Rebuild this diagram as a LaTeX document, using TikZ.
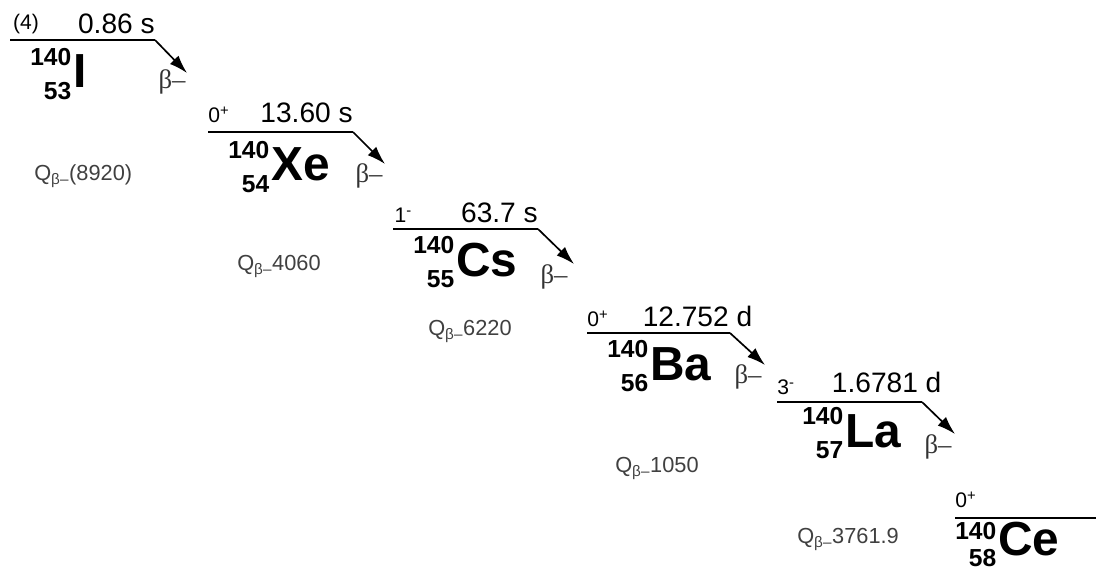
\documentclass[tikz,border=0pt]{standalone}
\usepackage{fontspec}
\setmainfont{Liberation Sans}
\newfontfamily\betafont{Liberation Serif}
\usepackage{tikz}
\usetikzlibrary{positioning,arrows.meta}

% mass number over atomic number, then the element
\newcommand{\nuc}[4][0pt]{\raisebox{-8.5pt}{\fontsize{17.5}{24.5}\selectfont\bfseries
  \begin{tabular}[b]{@{}r@{}}#2\hspace{8pt}\\[#1]#3\end{tabular}}\hspace{1.5pt}%
  {\fontsize{34}{38}\selectfont\bfseries #4}}

\begin{document}
\begin{tikzpicture}[
  x=0.025cm, y=-0.025cm,
  every node/.style={inner sep=0pt},
  level/.style={line width=1.6pt},
  decay/.style={line width=1.2pt, -{Latex[length=13pt,width=8.5pt]}},
  nuclide/.style={anchor=base west},
  halflife/.style={font=\fontsize{20}{22}\selectfont},
  spin/.style={font=\fontsize{15}{17}\selectfont},
  betalabel/.style={font=\fontsize{19}{21}\selectfont\betafont, text=black!80},
  qvalue/.style={anchor=base west, font=\fontsize{15.5}{17}\selectfont, text=black!75}
]
  \useasboundingbox (0,0) rectangle (1096,577);

  % Level 140I
  \coordinate (iL) at (10,40);
  \coordinate (iR) at (155,40);
  \coordinate (iT) at (187,73);
  \draw[level] (iL) -- (iR);
  \draw[decay] (iR) -- (iT);
  \node[spin, above right=4pt and 2pt of iL] (iSpin) {(4)};
  \node[halflife, above left=4.5pt and 0pt of iR] (iHalf) {0.86 s};
  \node[nuclide] (iNuc) at (30,88) {\nuc{140}{53}{I}};
  \node[betalabel] (iBeta) at (172,82) {β–};
  \node[qvalue] (iQ) at (34,180) {Q\textsubscript{β–}(8920)};

  % Level 140Xe
  \coordinate (xL) at (208,132);
  \coordinate (xR) at (353,132);
  \coordinate (xT) at (385,164);
  \draw[level] (xL) -- (xR);
  \draw[decay] (xR) -- (xT);
  \node[spin, above right=6.5pt and 0pt of xL] (xSpin) {0\textsuperscript{+}};
  \node[halflife, above left=6.5pt and 0pt of xR] (xHalf) {13.60 s};
  \node[nuclide] (xNuc) at (228,181) {\nuc{140}{54}{Xe}};
  \node[betalabel] (xBeta) at (369,176) {β–};
  \node[qvalue] (xQ) at (237,270) {Q\textsubscript{β–}4060};

  % Level 140Cs
  \coordinate (cL) at (393,229);
  \coordinate (cR) at (538,229);
  \coordinate (cT) at (574,264);
  \draw[level] (cL) -- (cR);
  \draw[decay] (cR) -- (cT);
  \node[spin, above right=4.5pt and 1pt of cL] (cSpin) {1\textsuperscript{-}};
  \node[halflife, above left=4.5pt and 0pt of cR] (cHalf) {63.7 s};
  \node[nuclide] (cNuc) at (413,276) {\nuc{140}{55}{Cs}};
  \node[betalabel] (cBeta) at (554,277) {β–};
  \node[qvalue] (cQ) at (428,335) {Q\textsubscript{β–}6220};

  % Level 140Ba
  \coordinate (bL) at (587,333);
  \coordinate (bR) at (730,333);
  \coordinate (bT) at (765,365);
  \draw[level] (bL) -- (bR);
  \draw[decay] (bR) -- (bT);
  \node[spin, above right=4pt and 0pt of bL] (bSpin) {0\textsuperscript{+}};
  \node[halflife, above left=4pt and -16pt of bR] (bHalf) {12.752 d};
  \node[nuclide] (bNuc) at (607,380) {\nuc{140}{56}{Ba}};
  \node[betalabel] (bBeta) at (748,377) {β–};
  \node[qvalue] (bQ) at (615,472) {Q\textsubscript{β–}1050};

  % Level 140La
  \coordinate (lL) at (777,402);
  \coordinate (lR) at (922,402);
  \coordinate (lT) at (955,434);
  \draw[level] (lL) -- (lR);
  \draw[decay] (lR) -- (lT);
  \node[spin, above right=5pt and 0pt of lL] (lSpin) {3\textsuperscript{-}};
  \node[halflife, above left=6.5pt and -14pt of lR] (lHalf) {1.6781 d};
  \node[nuclide] (lNuc) at (802,447) {\nuc{140}{57}{La}};
  \node[betalabel] (lBeta) at (938,447) {β–};
  \node[qvalue] (lQ) at (797,543) {Q\textsubscript{β–}3761.9};

  % Level 140Ce (stable)
  \coordinate (eL) at (955,518);
  \coordinate (eR) at (1096,518);
  \draw[level] (eL) -- (eR);
  \node[spin, above right=7pt and 0pt of eL] (eSpin) {0\textsuperscript{+}};
  \node[nuclide] (eNuc) at (955,555) {\nuc[-5pt]{140}{58}{Ce}};
\end{tikzpicture}
\end{document}
